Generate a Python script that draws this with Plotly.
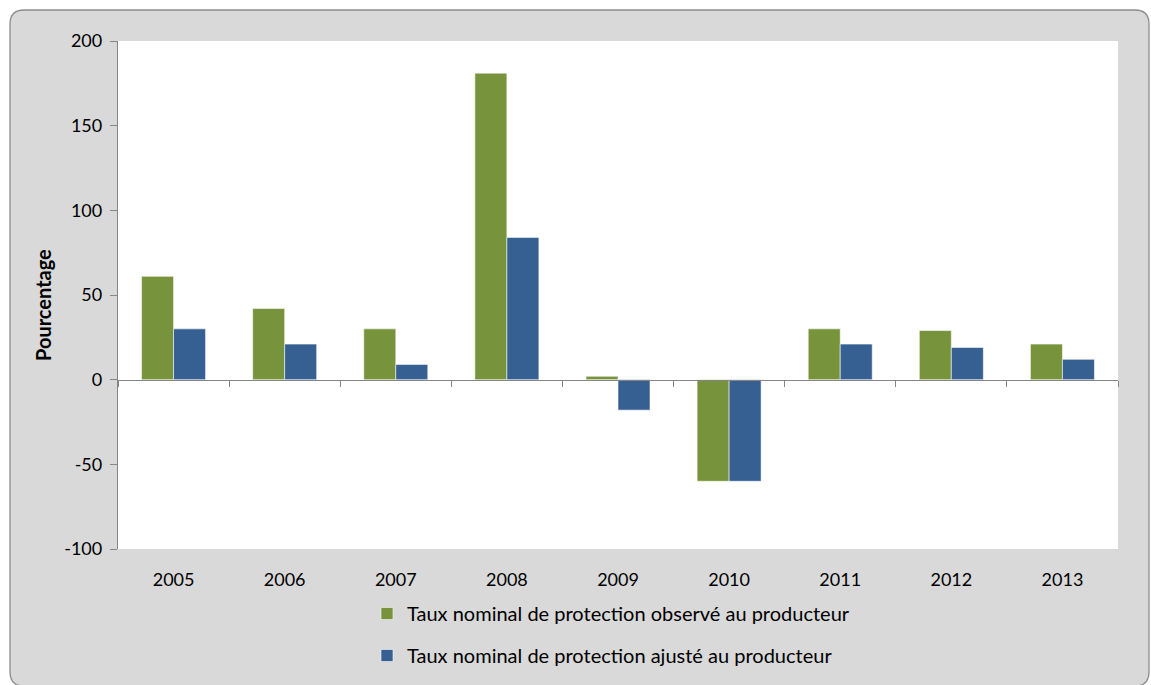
import plotly.graph_objects as go

years = ["2005", "2006", "2007", "2008", "2009", "2010", "2011", "2012", "2013"]
observe = [61, 42, 30, 181, 2, -60, 30, 29, 21]
ajuste = [30, 21, 9, 84, -18, -60, 21, 19, 12]
series_names = [
    "Taux nominal de protection observé au producteur",
    "Taux nominal de protection ajusté au producteur",
]
y_title = "Pourcentage"
y_range = [-100, 200]
y_tickvals = [-100, -50, 0, 50, 100, 150, 200]
y_ticktext = ["-100", "-50", "0", "50", "100", "150", "200"]

W, H = 1151, 685
L, R, T, B = 118, 33, 41, 136
PW, PH = W - L - R, H - T - B


def px(x):
    return (x - L) / PW


def py(y):
    return (H - B - y) / PH


FONT = "Lato, 'Open Sans', sans-serif"
GREEN = "#77933C"
BLUE = "#366092"
AXIS = "#868686"

fig = go.Figure()
fig.add_trace(go.Bar(
    x=years, y=observe, name=series_names[0], legendgroup="a",
    marker=dict(color=GREEN, line=dict(color="rgba(255,255,255,0.55)", width=1)),
))
fig.add_trace(go.Bar(
    x=years, y=ajuste, name=series_names[1], legendgroup="b",
    marker=dict(color=BLUE, line=dict(color="rgba(255,255,255,0.55)", width=1)),
))
# helper trace carrying the zero-level category axis (ticks between categories)
fig.add_trace(go.Scatter(
    x=years, y=[None] * len(years), xaxis="x2", yaxis="y",
    mode="lines", showlegend=False, hoverinfo="skip",
))

# rounded grey frame
x0, x1, y0, y1, r = px(10), px(1149), py(10), py(686), 14
rx, ry = r / PW, r / PH
frame = (
    f"M{x0 + rx},{y0} L{x1 - rx},{y0} Q{x1},{y0} {x1},{y0 - ry} "
    f"L{x1},{y1 + ry} Q{x1},{y1} {x1 - rx},{y1} "
    f"L{x0 + rx},{y1} Q{x0},{y1} {x0},{y1 + ry} "
    f"L{x0},{y0 - ry} Q{x0},{y0} {x0 + rx},{y0} Z"
)

zero_pos = (0 - y_range[0]) / (y_range[1] - y_range[0])

fig.update_layout(
    width=W, height=H,
    margin=dict(l=L, r=R, t=T, b=B, pad=0, autoexpand=False),
    paper_bgcolor="white",
    plot_bgcolor="white",
    font=dict(family=FONT, size=18, color="#000000"),
    barmode="group",
    bargap=0.424,
    bargroupgap=0,
    showlegend=True,
    legend=dict(
        x=px(367), y=py(594), xanchor="left", yanchor="top",
        orientation="v", traceorder="grouped", tracegroupgap=13,
        bgcolor="rgba(0,0,0,0)", font=dict(family=FONT, size=20, color="#000000"),
        itemclick=False, itemdoubleclick=False,
    ),
    xaxis=dict(
        type="category", categoryorder="array", categoryarray=years,
        showline=False, showgrid=False, zeroline=False, ticks="",
        ticklabelstandoff=18, automargin=False,
        tickfont=dict(family=FONT, size=18, color="#000000"),
    ),
    xaxis2=dict(
        type="category", categoryorder="array", categoryarray=years,
        overlaying="x", matches="x", anchor="free", position=zero_pos,
        showline=True, linecolor=AXIS, linewidth=1.3,
        ticks="outside", tickson="boundaries", ticklen=6, tickcolor=AXIS, tickwidth=1.3,
        showticklabels=False, showgrid=False, zeroline=False, automargin=False,
    ),
    yaxis=dict(
        range=y_range, tickmode="array", tickvals=y_tickvals, ticktext=y_ticktext,
        showline=True, linecolor=AXIS, linewidth=1.3,
        ticks="outside", ticklen=7, tickcolor=AXIS, tickwidth=1.3,
        showgrid=False, zeroline=False, automargin=False,
        tickfont=dict(family=FONT, size=18, color="#000000"),
        ticklabelstandoff=4,
    ),
    annotations=[
        dict(text=f"<b>{y_title}</b>", xref="paper", yref="paper",
             x=px(43), y=py(305), xanchor="center", yanchor="middle",
             textangle=-90, showarrow=False,
             font=dict(family=FONT, size=20, color="#000000")),
    ],
    shapes=[
        dict(type="path", xref="paper", yref="paper", path=frame,
             fillcolor="#D9D9D9", line=dict(color="#8C8C8C", width=1.3), layer="below"),
        dict(type="rect", xref="paper", yref="paper", x0=0, x1=1, y0=0, y1=1,
             fillcolor="white", line=dict(width=0), layer="below"),
    ],
)

fig.write_html("out.html")
